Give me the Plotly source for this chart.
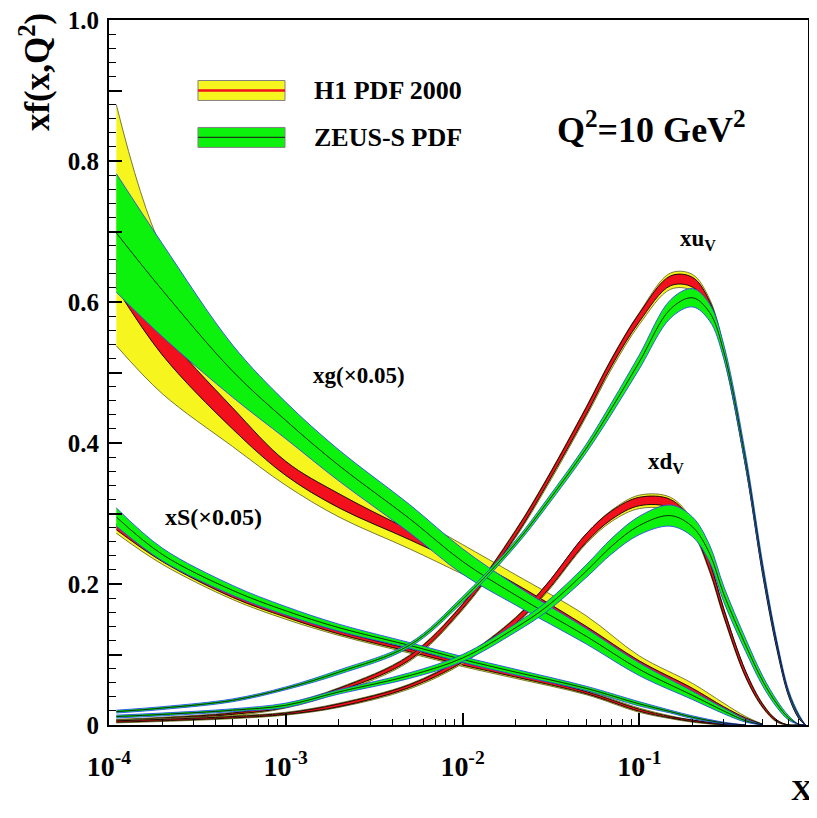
import math
import plotly.graph_objects as go

# ---- data (Q^2 = 10 GeV^2) ----
# gluon xg(x0.05)
x_g = [1.1e-4, 2e-4, 5e-4, 1e-3, 2e-3, 5e-3, 0.01, 0.02, 0.05, 0.1, 0.2, 0.3, 0.4, 0.5]
h1_g_c = [0.64, 0.543, 0.435, 0.364, 0.318, 0.27, 0.234, 0.192, 0.133, 0.085, 0.047, 0.023, 0.008, 0.001]
h1_g_exp = [0.02, 0.018, 0.015, 0.01, 0.01, 0.007, 0.007, 0.008, 0.007, 0.006, 0.005, 0.003, 0.002, 0.0]
h1_g_dn = [0.102, 0.073, 0.04, 0.024, 0.023, 0.02, 0.02, 0.014, 0.013, 0.012, 0.01, 0.006, 0.003, 0.001]
h1_g_up = [0.24, 0.132, 0.09, 0.076, 0.052, 0.03, 0.022, 0.021, 0.022, 0.013, 0.012, 0.008, 0.004, 0.0]
zeus_g_c = [0.698, 0.617, 0.502, 0.432, 0.368, 0.293, 0.232, 0.184, 0.126, 0.079, 0.042, 0.02, 0.006, 0.0]
zeus_g_err = [0.084, 0.066, 0.037, 0.026, 0.022, 0.02, 0.018, 0.014, 0.011, 0.009, 0.006, 0.004, 0.002, 0.0]

# sea xS(x0.05)
x_s = [1.1e-4, 2e-4, 5e-4, 1e-3, 2e-3, 5e-3, 0.01, 0.02, 0.05, 0.1, 0.15, 0.2, 0.3, 0.4]
h1_s_c = [0.281, 0.235, 0.184, 0.155, 0.131, 0.106, 0.087, 0.070, 0.046, 0.021, 0.011, 0.006, 0.001, 0.0]
h1_s_exp = [0.004, 0.003, 0.003, 0.002, 0.002, 0.002, 0.002, 0.002, 0.0015, 0.0015, 0.001, 0.001, 0.0005, 0.0]
h1_s_dn = [0.009, 0.007, 0.006, 0.005, 0.004, 0.004, 0.004, 0.004, 0.003, 0.003, 0.002, 0.002, 0.001, 0.0]
h1_s_up = [0.011, 0.009, 0.006, 0.005, 0.005, 0.004, 0.004, 0.003, 0.003, 0.003, 0.002, 0.001, 0.0005, 0.0]
zeus_s_c = [0.295, 0.242, 0.191, 0.162, 0.138, 0.113, 0.093, 0.075, 0.052, 0.030, 0.019, 0.011, 0.003, 0.0]
zeus_s_err = [0.013, 0.009, 0.007, 0.006, 0.005, 0.004, 0.004, 0.004, 0.003, 0.003, 0.002, 0.002, 0.001, 0.0]

# valence xu_v and xd_v
x_v = [1.1e-4, 2e-4, 5e-4, 1e-3, 2e-3, 5e-3, 0.01, 0.02, 0.03, 0.05, 0.07, 0.1,
       0.15, 0.2, 0.25, 0.3, 0.4, 0.5, 0.6, 0.7, 0.8, 0.87]
h1_u_c = [0.006, 0.009, 0.016, 0.027, 0.05, 0.095, 0.168, 0.272, 0.345, 0.445, 0.515, 0.578,
          0.63, 0.628, 0.595, 0.53, 0.37, 0.215, 0.11, 0.042, 0.010, 0.0]
h1_u_exp = [0.001, 0.001, 0.001, 0.002, 0.002, 0.003, 0.003, 0.004, 0.004, 0.005, 0.005, 0.006,
            0.007, 0.007, 0.006, 0.005, 0.004, 0.003, 0.002, 0.001, 0.001, 0.0]
h1_u_dn = [0.002, 0.002, 0.003, 0.003, 0.004, 0.005, 0.005, 0.006, 0.007, 0.008, 0.009, 0.01,
           0.012, 0.012, 0.01, 0.008, 0.006, 0.004, 0.003, 0.002, 0.001, 0.0]
h1_u_up = [0.002, 0.002, 0.002, 0.003, 0.003, 0.004, 0.004, 0.005, 0.005, 0.006, 0.006, 0.007,
           0.011, 0.011, 0.009, 0.007, 0.005, 0.004, 0.003, 0.002, 0.001, 0.0]
zeus_u_c = [0.019, 0.024, 0.035, 0.052, 0.075, 0.113, 0.178, 0.258, 0.315, 0.392, 0.45, 0.515,
            0.59, 0.606, 0.585, 0.53, 0.375, 0.222, 0.116, 0.046, 0.013, 0.0]
zeus_u_err = [0.002, 0.002, 0.002, 0.002, 0.003, 0.003, 0.004, 0.004, 0.005, 0.006, 0.008, 0.01,
              0.013, 0.013, 0.012, 0.01, 0.008, 0.006, 0.004, 0.003, 0.002, 0.0]

h1_d_c = [0.005, 0.007, 0.011, 0.016, 0.028, 0.055, 0.092, 0.148, 0.195, 0.265, 0.298, 0.317,
          0.314, 0.282, 0.225, 0.16, 0.072, 0.027, 0.006, 0.0, 0.0, 0.0]
h1_d_exp = [0.001, 0.001, 0.001, 0.001, 0.002, 0.002, 0.003, 0.004, 0.005, 0.006, 0.006, 0.006,
            0.006, 0.006, 0.006, 0.005, 0.004, 0.002, 0.001, 0.0, 0.0, 0.0]
h1_d_dn = [0.002, 0.002, 0.002, 0.002, 0.003, 0.004, 0.005, 0.006, 0.007, 0.008, 0.009, 0.01,
           0.01, 0.009, 0.008, 0.007, 0.005, 0.003, 0.002, 0.0, 0.0, 0.0]
h1_d_up = [0.002, 0.002, 0.002, 0.002, 0.003, 0.003, 0.004, 0.005, 0.005, 0.006, 0.007, 0.009,
           0.009, 0.008, 0.007, 0.006, 0.004, 0.003, 0.001, 0.0, 0.0, 0.0]
zeus_d_c = [0.012, 0.015, 0.021, 0.028, 0.047, 0.07, 0.095, 0.138, 0.168, 0.218, 0.254, 0.283,
            0.297, 0.281, 0.243, 0.186, 0.113, 0.062, 0.03, 0.01, 0.001, 0.0]
zeus_d_err = [0.002, 0.002, 0.002, 0.003, 0.003, 0.004, 0.005, 0.006, 0.007, 0.009, 0.011, 0.013,
              0.015, 0.014, 0.012, 0.011, 0.009, 0.007, 0.005, 0.003, 0.0, 0.0]

x_major = [1e-4, 1e-3, 1e-2, 1e-1]
x_major_text = ['10<sup>-4</sup>', '10<sup>-3</sup>', '10<sup>-2</sup>', '10<sup>-1</sup>']
y_major = [0, 0.1, 0.2, 0.3, 0.4, 0.5, 0.6, 0.7, 0.8, 0.9, 1.0]
y_major_text = ['0', '', '0.2', '', '0.4', '', '0.6', '', '0.8', '', '1.0']

YELLOW = '#f6f61e'
RED = '#f2101c'
GREEN = '#0cf20c'
OLIVE = '#6a6a30'
BLUE = '#2a4cf0'
FONT = 'Liberation Serif'

fig = go.Figure()


def add_band(x, lo, hi, fill, edge):
    line = dict(color=edge, width=0.9, shape='spline', smoothing=1.0)
    fig.add_trace(go.Scatter(x=x, y=lo, mode='lines', line=line,
                             hoverinfo='skip', showlegend=False))
    fig.add_trace(go.Scatter(x=x, y=hi, mode='lines', line=line, fill='tonexty',
                             fillcolor=fill, hoverinfo='skip', showlegend=False))


def add_h1(x, c, exp, dn, up):
    add_band(x, [a - b for a, b in zip(c, dn)], [a + b for a, b in zip(c, up)], YELLOW, OLIVE)
    add_band(x, [a - b for a, b in zip(c, exp)], [a + b for a, b in zip(c, exp)], RED, 'black')


def add_zeus(x, c, err):
    add_band(x, [a - b for a, b in zip(c, err)], [a + b for a, b in zip(c, err)], GREEN, BLUE)
    fig.add_trace(go.Scatter(x=x, y=c, mode='lines',
                             line=dict(color='black', width=0.8, shape='spline', smoothing=1.0),
                             hoverinfo='skip', showlegend=False))


# H1 bands underneath, ZEUS-S on top
add_h1(x_g, h1_g_c, h1_g_exp, h1_g_dn, h1_g_up)
add_h1(x_s, h1_s_c, h1_s_exp, h1_s_dn, h1_s_up)
add_h1(x_v, h1_u_c, h1_u_exp, h1_u_dn, h1_u_up)
add_h1(x_v, h1_d_c, h1_d_exp, h1_d_dn, h1_d_up)
add_zeus(x_g, zeus_g_c, zeus_g_err)
add_zeus(x_s, zeus_s_c, zeus_s_err)
add_zeus(x_v, zeus_u_c, zeus_u_err)
add_zeus(x_v, zeus_d_c, zeus_d_err)

x_minor = [m * 10 ** e for e in (-4, -3, -2, -1) for m in range(2, 10) if m * 10 ** e < 0.9]

fig.update_xaxes(
    type='log', range=[-4, math.log10(0.9)], automargin=False,
    showline=True, linecolor='black', linewidth=2, mirror=True,
    showgrid=False, zeroline=False,
    ticks='inside', ticklen=12, tickwidth=1.5, tickcolor='black',
    tickvals=x_major, ticktext=x_major_text, ticklabelstandoff=15,
    ticklabeloverflow='allow',
    tickfont=dict(family=FONT, size=28, color='black', weight='bold'),
    minor=dict(ticks='inside', ticklen=6, tickwidth=1.2, tickcolor='black', tickvals=x_minor),
)
fig.update_yaxes(
    range=[0, 1], automargin=False,
    showline=True, linecolor='black', linewidth=2, mirror=True,
    showgrid=False, zeroline=False,
    ticks='inside', ticklen=13, tickwidth=1.5, tickcolor='black',
    tickvals=y_major, ticktext=y_major_text, ticklabelstandoff=3,
    ticklabeloverflow='allow',
    tickfont=dict(family=FONT, size=25, color='black', weight='bold'),
    minor=dict(ticks='inside', ticklen=7, tickwidth=1.2, tickcolor='black', dtick=0.02),
)

# legend drawn by hand, like the original
legend_boxes = [(0.9142, 0.8859, YELLOW, RED, 2.5), (0.8476, 0.8193, GREEN, '#1a3a1a', 1.2)]
for y_top, y_bot, fill, mid, w in legend_boxes:
    fig.add_shape(type='rect', xref='paper', yref='paper', x0=0.1273, x1=0.2518,
                  y0=y_bot, y1=y_top, fillcolor=fill, line=dict(color='#808080', width=1))
    fig.add_shape(type='line', xref='paper', yref='paper', x0=0.1273, x1=0.2518,
                  y0=(y_top + y_bot) / 2, y1=(y_top + y_bot) / 2, line=dict(color=mid, width=w))

labels = [
    ('H1 PDF 2000', 0.2904, 0.900, 'left', 26),
    ('ZEUS-S PDF', 0.2904, 0.8335, 'left', 26),
    ('Q<sup>2</sup>=10 GeV<sup>2</sup>', 0.638, 0.848, 'left', 36),
    ('xu<sub>V</sub>', 0.843, 0.688, 'center', 23),
    ('xd<sub>V</sub>', 0.797, 0.372, 'center', 23),
    ('xg(\u00d70.05)', 0.3577, 0.4961, 'center', 23),
    ('xS(\u00d70.05)', 0.150, 0.2948, 'center', 24),
]
for text, x, y, anchor, size in labels:
    fig.add_annotation(text=text, xref='paper', yref='paper', x=x, y=y, xanchor=anchor,
                       yanchor='middle', showarrow=False,
                       font=dict(family=FONT, size=size, color='black', weight='bold'))

fig.add_annotation(text='xf(x,Q<sup>2</sup>)', xref='paper', yref='paper', x=-0.106, y=0.926,
                   textangle=-90, showarrow=False, xanchor='center', yanchor='middle',
                   font=dict(family=FONT, size=35, color='black', weight='bold'))
fig.add_annotation(text='X', xref='paper', yref='paper', x=0.991, y=-0.092,
                   showarrow=False, xanchor='center', yanchor='middle',
                   font=dict(family=FONT, size=30, color='black', weight='bold'))

# the page body adds an 8 px offset, so the margins are shifted up/left to compensate
fig.update_layout(
    width=817, height=818,
    margin=dict(l=101, r=17, t=12, b=101),
    paper_bgcolor='white', plot_bgcolor='white',
    font=dict(family=FONT, color='black'),
    showlegend=False,
)

fig.write_html("out.html")
